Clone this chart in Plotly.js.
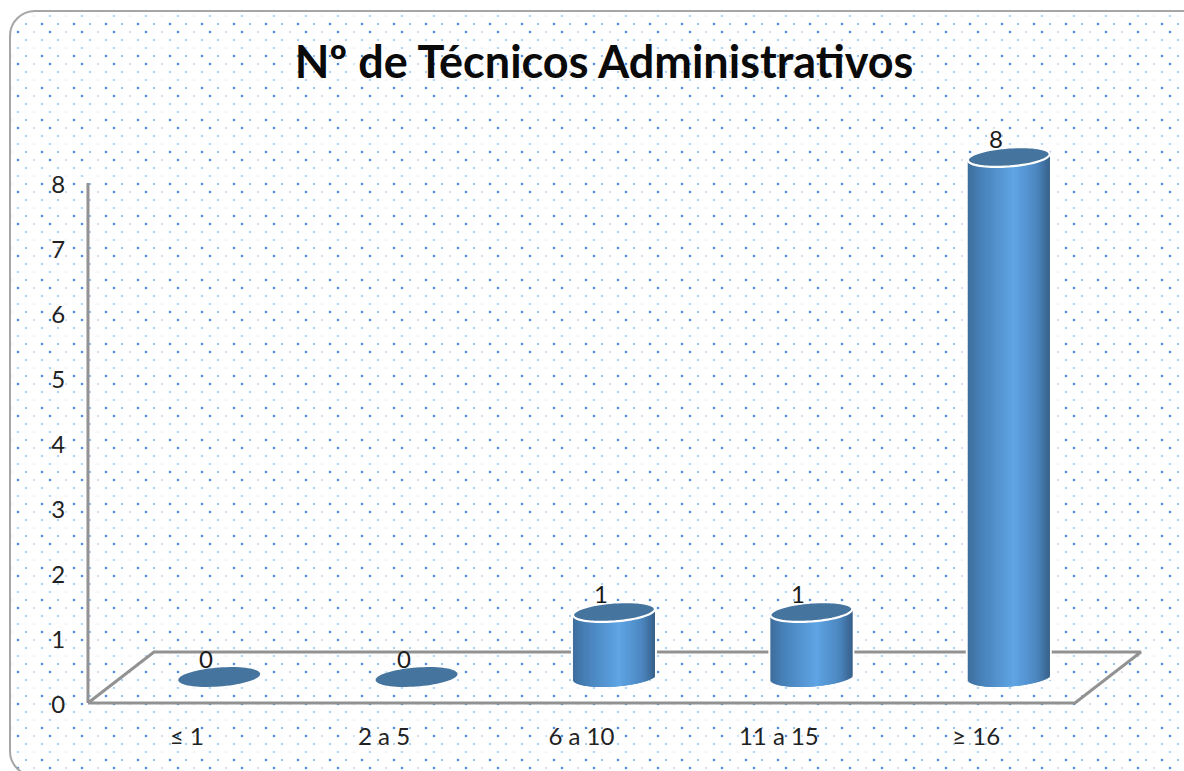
<!DOCTYPE html>
<html><head><meta charset="utf-8">
<script src="https://cdn.plot.ly/plotly-3.0.1.min.js"></script>
<style>
html,body{margin:0;padding:0;background:#fff;width:1184px;height:771px;overflow:hidden}
#card{position:absolute;left:9px;top:10px;width:1200px;height:763px;border:2px solid #a6a6a6;border-radius:26px;box-sizing:content-box;
background-position:-11px -12px;background-repeat:repeat;background-size:32px 32px;
background-image:url("data:image/svg+xml,%3Csvg xmlns='http://www.w3.org/2000/svg' width='32' height='32'%3E%3Cg fill='%234a90dc'%3E%3Ccircle cx='18' cy='0' r='1.3'/%3E%3Ccircle cx='18' cy='32' r='1.3'/%3E%3Ccircle cx='2' cy='0' r='.8' opacity='.6'/%3E%3Ccircle cx='2' cy='32' r='.8' opacity='.6'/%3E%3Ccircle cx='10' cy='8' r='1' opacity='.6'/%3E%3Ccircle cx='26' cy='8' r='1' opacity='.6'/%3E%3Cellipse cx='18' cy='16' rx='1.4' ry='.7' opacity='.6'/%3E%3Ccircle cx='2' cy='16' r='.6' opacity='.5'/%3E%3Ccircle cx='10' cy='24' r='1.3'/%3E%3Ccircle cx='26' cy='24' r='1.1' opacity='.7'/%3E%3C/g%3E%3C/svg%3E");}
#chart{position:absolute;left:0;top:0;width:1184px;height:771px}
</style></head><body>
<div id="card"></div>
<div id="chart"></div>
<script>
var chartTitle = "Nº de Técnicos Administrativos";
var categories = ["≤ 1", "2 a 5", "6 a 10", "11 a 15", "≥ 16"];
var values = [0, 0, 1, 1, 8];
var yTicks = [0, 1, 2, 3, 4, 5, 6, 7, 8];

var FONT = "Lato, Carlito, sans-serif";
var pxX = 197.4, pxY = 65;            // pixels per category / per unit
var padX = 8 / pxX, padY = 8 / pxY;   // room round the frame so its lines are not clipped
var depthX = 66 / pxX, depthY = 51 / pxY;
var shiftX = 32.5 / pxX, shiftY = 26 / pxY;
var a = 41 / pxX, b = 9.5 / pxY, tilt = 3 / pxY;
var xPos = categories.map(function (_, i) { return i; });

function lerp(p, q, t) { return Math.round(p + (q - p) * t); }
var stops = [[0, [62,110,156]], [0.14, [70,127,182]], [0.56, [96,165,229]], [0.84, [76,135,192]], [1, [55,97,138]]];
function shade(t) {
  for (var k = 1; k < stops.length; k++) {
    if (t <= stops[k][0]) {
      var f = (t - stops[k-1][0]) / (stops[k][0] - stops[k-1][0]);
      var p = stops[k-1][1], q = stops[k][1];
      return "rgb(" + lerp(p[0],q[0],f) + "," + lerp(p[1],q[1],f) + "," + lerp(p[2],q[2],f) + ")";
    }
  }
  return "rgb(55,97,138)";
}

// cylinder bodies: one bar trace, each cylinder made of thin vertical strips
var sx = [], sy = [], sb = [], so = [], sw = [], sc = [];
var N = 82, stripW = 3 / pxX, halo = 2 / pxX;
values.forEach(function (v, i) {
  if (v <= 0) return;
  sx.push(i); sy.push(v + 2*tilt); sb.push(-tilt); so.push(-a - halo); sw.push(2*a + 2*halo); sc.push("#ffffff");
  for (var s = 0; s < N; s++) {
    var u0 = -1 + 2 * s / N, u = -1 + 2 * (s + 0.5) / N;
    var low = -b * Math.sqrt(Math.max(0, 1 - u * u)) + tilt * u;
    var top = v + tilt * u;
    var wLeft = 1 - u0;
    sx.push(i); sy.push(top - low); sb.push(low);
    so.push(u0 * a); sw.push(Math.min(stripW, wLeft * a));
    sc.push(shade((s + 0.5) / N));
  }
});

var floorX = [-0.5, 4.5, 4.5 + depthX, -0.5 + depthX, -0.5];
var floorY = [0, 0, depthY, depthY, 0];

var traces = [
  {type: "scatter", mode: "lines", x: floorX, y: floorY, xaxis: "x", yaxis: "y", cliponaxis: false,
   line: {color: "#929292", width: 3}, hoverinfo: "skip", showlegend: false},
  {type: "scatter", mode: "lines", x: [-0.5, -0.5], y: [0, yTicks[yTicks.length-1]], xaxis: "x", yaxis: "y", cliponaxis: false,
   line: {color: "#929292", width: 3}, hoverinfo: "skip", showlegend: false},
  {type: "bar", x: sx, y: sy, base: sb, offset: so, width: sw, xaxis: "x2", yaxis: "y2",
   marker: {color: sc, line: {width: 0}}, hoverinfo: "skip", showlegend: false}
];

function ellipsePath(cx, cy) {
  var d = "";
  for (var k = 0; k < 72; k++) {
    var t = 2 * Math.PI * k / 72, c = Math.cos(t), s = Math.sin(t);
    d += (k ? "L" : "M") + (cx + a * c).toFixed(4) + "," + (cy + b * s + tilt * c).toFixed(4);
  }
  return d + "Z";
}
var shapes = values.map(function (v, i) {
  return {type: "path", xref: "x2", yref: "y2", path: ellipsePath(i, v), layer: "above",
          fillcolor: "#45759f", line: {color: v > 0 ? "#ffffff" : "rgba(0,0,0,0)", width: v > 0 ? 2.2 : 0}};
});

var annotations = values.map(function (v, i) {
  return {xref: "x2", yref: "y2", x: i, y: v, text: String(v), showarrow: false, xshift: -13, yshift: 18.5,
          font: {family: FONT, size: 24, color: "#1a1a1a"}, xanchor: "center", yanchor: "middle"};
});

var xHi = 4.855, yHi = 9;
var layout = {
  width: 1184, height: 771, autosize: false,
  paper_bgcolor: "rgba(0,0,0,0)", plot_bgcolor: "rgba(0,0,0,0)",
  margin: {l: 80, r: 39, t: 118, b: 60},
  barmode: "overlay", showlegend: false, hovermode: false,
  title: {text: "<b>" + chartTitle + "</b>", x: 604/1184, xref: "container", xanchor: "center", y: 1 - 62/771, yref: "container", yanchor: "middle",
          font: {family: FONT, size: 45, color: "#0a0a0a"}},
  xaxis: {range: [-0.5 - padX, xHi], tickmode: "array", tickvals: xPos, ticktext: categories, showgrid: false, zeroline: false, showline: false,
          ticks: "outside", ticklen: 4, tickcolor: "rgba(0,0,0,0)", tickfont: {family: FONT, size: 24, color: "#222"}, fixedrange: true},
  yaxis: {range: [-padY, yHi], tickmode: "array", tickvals: yTicks, showgrid: false, zeroline: false, showline: false,
          ticks: "outside", ticklen: 9, tickcolor: "rgba(0,0,0,0)", tickfont: {family: FONT, size: 24, color: "#222"}, ticklabelshift: 2, fixedrange: true},
  xaxis2: {range: [-0.5 - padX - shiftX, xHi - shiftX], overlaying: "x", anchor: "y2", visible: false, fixedrange: true},
  yaxis2: {range: [-padY - shiftY, yHi - shiftY], overlaying: "y", anchor: "x2", visible: false, fixedrange: true},
  shapes: shapes, annotations: annotations
};
Plotly.newPlot("chart", traces, layout, {displayModeBar: false, staticPlot: true});
</script>
</body></html>
